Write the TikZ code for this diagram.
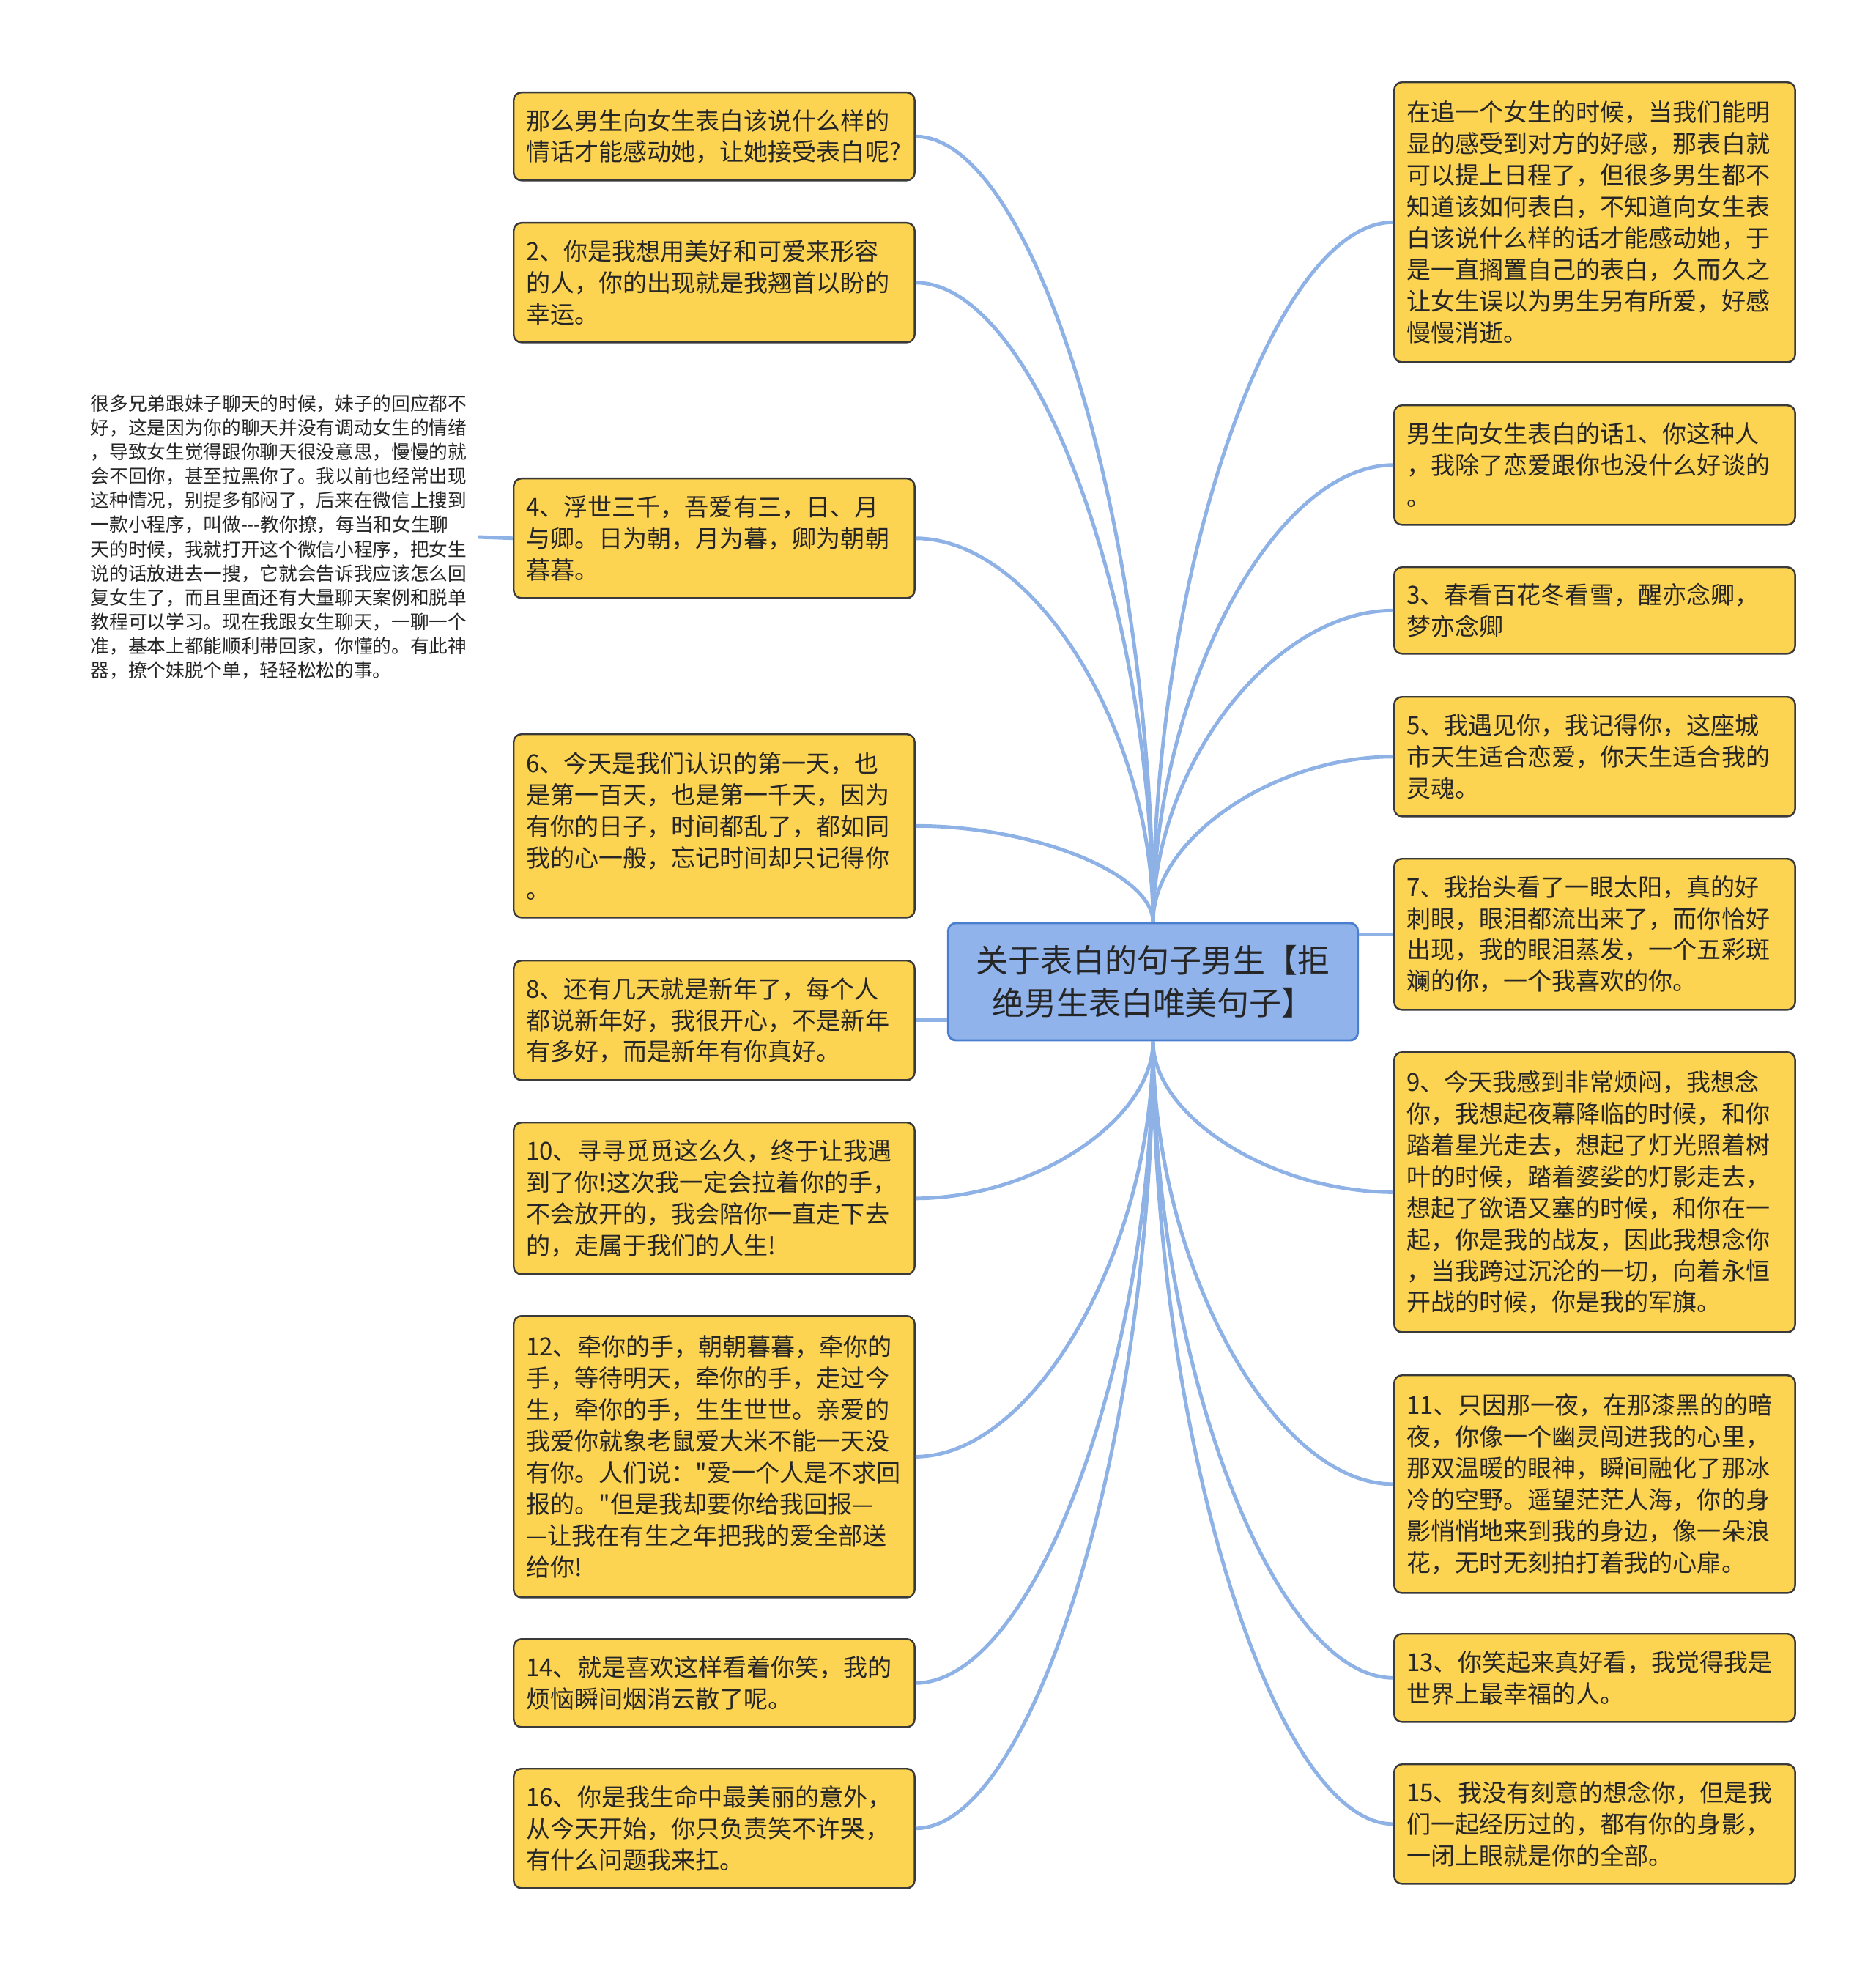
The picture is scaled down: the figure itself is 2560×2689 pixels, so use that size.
\documentclass[tikz,border=0pt]{standalone}
\usetikzlibrary{calc}
\font\leafraw="Noto Sans CJK SC" at 9.4pt
\font\rootraw="Noto Sans CJK SC" at 12.5pt
\font\noteraw="Noto Sans CJK SC" at 7.3pt
\definecolor{boxfill}{HTML}{FDD352}
\definecolor{boxline}{HTML}{3A3A3A}
\definecolor{connc}{HTML}{8FB2E6}
\definecolor{rootfill}{HTML}{8FB3EA}
\definecolor{rootline}{HTML}{4A7FD0}
\definecolor{txt}{HTML}{262626}
\tikzset{
  leaf/.style={draw=boxline, fill=boxfill, line width=0.7pt, rounded corners=3pt,
    text width=5.13cm, inner xsep=0.17cm, inner ysep=0pt, align=left,
    anchor=north west, text=txt,
    font={\leafraw\baselineskip=12.2pt\lineskiplimit=-20pt\lineskip=0pt\relax}},
  root/.style={draw=rootline, fill=rootfill, line width=0.8pt, rounded corners=3pt,
    minimum width=5.59cm, minimum height=1.6cm, inner sep=0pt, align=center, text=txt,
    font={\rootraw\baselineskip=16.5pt\lineskiplimit=-20pt\lineskip=0pt\relax}},
  note/.style={text width=5.15cm, inner xsep=0.13cm, inner ysep=0pt, align=left,
    anchor=west, text=txt,
    font={\noteraw\baselineskip=9.4pt\lineskiplimit=-20pt\lineskip=0pt\relax}},
  conn/.style={draw=connc, line width=1.4pt},
}
\newcommand{\curvelink}[2]{%
  \draw[conn] let \p1=(#1), \p2=(#2) in
    (\p1) .. controls ({0.5*(\x1+\x2)},\y1) and (\x2,{0.5*(\y1+\y2)}) .. (\p2);}
\begin{document}
\begin{tikzpicture}[x=0.01cm, y=-0.01cm]
\useasboundingbox (0,0) rectangle (2560,2689);

% connectors drawn first (under the boxes)
\path (1574,1340) coordinate (Cc);

% root
\node[root] (C) at (1574,1340) {关于表白的句子男生【拒\\绝男生表白唯美句子】};

% left column
\node[leaf, minimum height=1.20cm] (L1) at (700,125) {那么男生向女生表白该说什么样的\\情话才能感动她，让她接受表白呢?};
\node[leaf, minimum height=1.63cm] (L2) at (700,303) {2、你是我想用美好和可爱来形容\\的人，你的出现就是我翘首以盼的\\幸运。};
\node[leaf, minimum height=1.63cm] (L3) at (700,652) {4、浮世三千，吾爱有三，日、月\\与卿。日为朝，月为暮，卿为朝朝\\暮暮。};
\node[leaf, minimum height=2.50cm] (L4) at (700,1001) {6、今天是我们认识的第一天，也\\是第一百天，也是第一千天，因为\\有你的日子，时间都乱了，都如同\\我的心一般，忘记时间却只记得你\\。};
\node[leaf, minimum height=1.63cm] (L5) at (700,1310) {8、还有几天就是新年了，每个人\\都说新年好，我很开心，不是新年\\有多好，而是新年有你真好。};
\node[leaf, minimum height=2.07cm] (L6) at (700,1531) {10、寻寻觅觅这么久，终于让我遇\\到了你!这次我一定会拉着你的手，\\不会放开的，我会陪你一直走下去\\的，走属于我们的人生!};
\node[leaf, minimum height=3.84cm] (L7) at (700,1795) {12、牵你的手，朝朝暮暮，牵你的\\手，等待明天，牵你的手，走过今\\生，牵你的手，生生世世。亲爱的\\我爱你就象老鼠爱大米不能一天没\\有你。人们说："爱一个人是不求回\\报的。"但是我却要你给我回报—\\—让我在有生之年把我的爱全部送\\给你!};
\node[leaf, minimum height=1.20cm] (L8) at (700,2236) {14、就是喜欢这样看着你笑，我的\\烦恼瞬间烟消云散了呢。};
\node[leaf, minimum height=1.63cm] (L9) at (700,2413) {16、你是我生命中最美丽的意外，\\从今天开始，你只负责笑不许哭，\\有什么问题我来扛。};

% right column
\node[leaf, minimum height=3.82cm] (R1) at (1902,111) {在追一个女生的时候，当我们能明\\显的感受到对方的好感，那表白就\\可以提上日程了，但很多男生都不\\知道该如何表白，不知道向女生表\\白该说什么样的话才能感动她，于\\是一直搁置自己的表白，久而久之\\让女生误以为男生另有所爱，好感\\慢慢消逝。};
\node[leaf, minimum height=1.63cm] (R2) at (1902,552) {男生向女生表白的话1、你这种人\\，我除了恋爱跟你也没什么好谈的\\。};
\node[leaf, minimum height=1.18cm] (R3) at (1902,773) {3、春看百花冬看雪，醒亦念卿，\\梦亦念卿};
\node[leaf, minimum height=1.63cm] (R4) at (1902,950) {5、我遇见你，我记得你，这座城\\市天生适合恋爱，你天生适合我的\\灵魂。};
\node[leaf, minimum height=2.06cm] (R5) at (1902,1171) {7、我抬头看了一眼太阳，真的好\\刺眼，眼泪都流出来了，而你恰好\\出现，我的眼泪蒸发，一个五彩斑\\斓的你，一个我喜欢的你。};
\node[leaf, minimum height=3.82cm] (R6) at (1902,1435) {9、今天我感到非常烦闷，我想念\\你，我想起夜幕降临的时候，和你\\踏着星光走去，想起了灯光照着树\\叶的时候，踏着婆娑的灯影走去，\\想起了欲语又塞的时候，和你在一\\起，你是我的战友，因此我想念你\\，当我跨过沉沦的一切，向着永恒\\开战的时候，你是我的军旗。};
\node[leaf, minimum height=2.97cm] (R7) at (1902,1876) {11、只因那一夜，在那漆黑的的暗\\夜，你像一个幽灵闯进我的心里，\\那双温暖的眼神，瞬间融化了那冰\\冷的空野。遥望茫茫人海，你的身\\影悄悄地来到我的身边，像一朵浪\\花，无时无刻拍打着我的心扉。};
\node[leaf, minimum height=1.20cm] (R8) at (1902,2229) {13、你笑起来真好看，我觉得我是\\世界上最幸福的人。};
\node[leaf, minimum height=1.63cm] (R9) at (1902,2407) {15、我没有刻意的想念你，但是我\\们一起经历过的，都有你的身影，\\一闭上眼就是你的全部。};

% side note
\node[note] (N) at (110,733) {很多兄弟跟妹子聊天的时候，妹子的回应都不\\好，这是因为你的聊天并没有调动女生的情绪\\，导致女生觉得跟你聊天很没意思，慢慢的就\\会不回你，甚至拉黑你了。我以前也经常出现\\这种情况，别提多郁闷了，后来在微信上搜到\\一款小程序，叫做---教你撩，每当和女生聊\\天的时候，我就打开这个微信小程序，把女生\\说的话放进去一搜，它就会告诉我应该怎么回\\复女生了，而且里面还有大量聊天案例和脱单\\教程可以学习。现在我跟女生聊天，一聊一个\\准，基本上都能顺利带回家，你懂的。有此神\\器，撩个妹脱个单，轻轻松松的事。};

% connectors
\curvelink{L1.east}{C.north}
\curvelink{L2.east}{C.north}
\curvelink{L3.east}{C.north}
\curvelink{L4.east}{C.north}
\curvelink{R1.west}{C.north}
\curvelink{R2.west}{C.north}
\curvelink{R3.west}{C.north}
\curvelink{R4.west}{C.north}
\curvelink{L6.east}{C.south}
\curvelink{L7.east}{C.south}
\curvelink{L8.east}{C.south}
\curvelink{L9.east}{C.south}
\curvelink{R6.west}{C.south}
\curvelink{R7.west}{C.south}
\curvelink{R8.west}{C.south}
\curvelink{R9.west}{C.south}
\draw[conn] (C.west |- L5.east) -- (L5.east);
\draw[conn] (C.east |- R5.west) -- (R5.west);
\draw[conn] (N.east) -- (L3.west);
\end{tikzpicture}
\end{document}
